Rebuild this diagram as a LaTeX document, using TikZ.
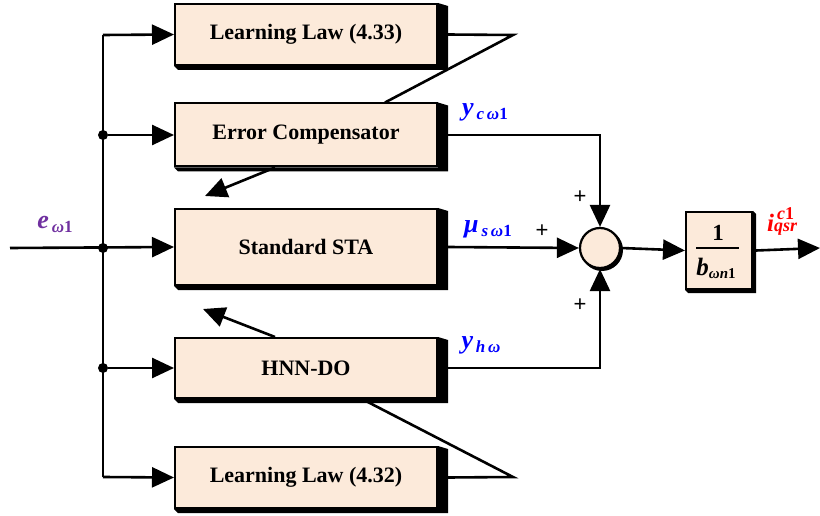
\documentclass[tikz,border=0pt]{standalone}
\usepackage{fontspec}
\setmainfont{Liberation Serif}
\newfontfamily\plusfont{Liberation Sans}
\usetikzlibrary{arrows.meta}
\definecolor{boxfill}{RGB}{252,234,218}
\definecolor{lblblue}{RGB}{0,0,255}
\definecolor{lblpurple}{RGB}{112,48,160}
\definecolor{lblred}{RGB}{255,0,0}
\newcommand\dropshade[1]{\fill (#1.north east) -- ++(10,3) -- ([shift={(10,4)}]#1.south east) -- ([shift={(4,4)}]#1.south west) -- (#1.south west) -- (#1.south east) -- cycle;}
\newcommand\fsz[1]{\fontsize{#1}{#1}\selectfont}
\begin{document}
\begin{tikzpicture}[x=1pt,y=-1pt,
  blk/.style={draw=black, line width=2pt, fill=boxfill, minimum width=262pt, inner sep=0pt,
              font=\fsz{22}\bfseries},
  conn/.style={line width=2.6pt},
  arr/.style={conn, -{Triangle[length=22pt,width=20pt]}},
  dotn/.style={circle, fill=black, inner sep=0pt, minimum size=10pt},
  lbl/.style={inner sep=0pt, font=\bfseries\itshape},
  plus/.style={inner sep=0pt, font=\plusfont\fsz{22}}
]
\useasboundingbox (0,0) rectangle (820,516);

% blocks
\node[blk, minimum height=61pt] (LL1) at (306,34.5) {Learning Law (4.33)};
\node[blk, minimum height=63pt] (EC)  at (306,135) {Error Compensator};
\node[blk, minimum height=76pt] (STA) at (306,247) {Standard STA};
\node[blk, minimum height=60pt] (HNN) at (306,368) {HNN-DO};
\node[blk, minimum height=61pt] (LL2) at (306,477.5) {Learning Law (4.32)};
\foreach \b in {LL1,EC,STA,HNN,LL2} {\dropshade{\b}}

% summing junction
\fill (602,250) circle (21);
\node[circle, draw=black, line width=2.2pt, fill=boxfill, minimum size=40pt, inner sep=0pt] (sum) at (600,248) {};

% gain block
\node[draw=black, line width=2pt, fill=boxfill, minimum width=66pt, minimum height=77pt, inner sep=0pt] (gain) at (719,250.5) {};
\fill (gain.north east) -- ++(3,3) -- ([shift={(3,3)}]gain.south east) -- ([shift={(3,3)}]gain.south west) -- (gain.south west) -- (gain.south east) -- cycle;
\node[inner sep=0pt, font=\fsz{23}\bfseries] (num) at (718,233) {1};
\coordinate (rl) at (696,248);
\coordinate (rr) at (739,248);
\draw[line width=2pt] (rl) -- (rr);
\node[inner sep=0pt] (den) at (716,268) {{\fsz{25}\bfseries\itshape b}\raisebox{-3pt}{\fsz{15}\bfseries\itshape ωn\upshape 1}};

% input and bus
\coordinate (in) at (10,248);
\coordinate (bt) at (103,35);
\coordinate (bb) at (103,477);
\node[dotn] (j1) at (103,135) {};
\node[dotn] (j2) at (103,248) {};
\node[dotn] (j3) at (103,368) {};
\draw[conn] (bt) -- (bb);
\draw[arr] (in) -- (STA.west);
\draw[arr] (bt) -- (LL1.west);
\draw[arr] (j1) -- (EC.west);
\draw[arr] (j3) -- (HNN.west);
\draw[arr] (bb) -- (LL2.west);

% learning law feedback lines
\coordinate (t1) at (513,35);
\coordinate (t2) at (513,477);
\draw[conn] ([xshift=10]LL1.east) -- (t1) -- ([xshift=79]EC.north);
\draw[conn] ([xshift=56]HNN.south) -- (t2) -- ([xshift=10]LL2.east);

% diagonal arrows to STA
\coordinate (a1) at (205,196);
\coordinate (a2) at (203,309);
\draw[arr] ([xshift=-31]EC.south) -- (a1);
\draw[arr] ([xshift=-31]HNN.north) -- (a2);

% outputs to sum
\draw[arr] ([xshift=10]EC.east) -| (sum.north);
\draw[arr] ([xshift=10]STA.east) -- (sum.west);
\draw[arr] ([xshift=10]HNN.east) -| (sum.south);
\draw[arr] (sum.east) -- (gain.west);
\coordinate (out) at (820,248);
\draw[arr] ([xshift=3]gain.east) -- (out);

% labels
\node[lbl, text=lblpurple] (le) at (55,224) {{\fsz{26}e}\raisebox{-4pt}{\fsz{17}\,ω\upshape 1}};
\node[lbl, text=lblblue] (lyc) at (485,112) {{\fsz{26}y}\raisebox{-4pt}{\fsz{17}\,c\,ω\upshape 1}};
\node[lbl, text=lblblue] (lmu) at (488,229) {{\fsz{26}μ}\raisebox{-4pt}{\fsz{17}\,s\,ω\upshape 1}};
\node[lbl, text=lblblue] (lyh) at (481,345) {{\fsz{26}y}\raisebox{-4pt}{\fsz{17}\,h\,ω}};
\node[lbl, text=lblred, anchor=base west] (li) at (767,232) {{\fsz{25}i}\makebox[0pt][l]{\raisebox{13pt}{\fsz{18}\,c\upshape 1}}{\fsz{18}qsr}};
\node[plus] (p1) at (580,197) {+};
\node[plus] (p2) at (542,231) {+};
\node[plus] (p3) at (580,305) {+};
\end{tikzpicture}
\end{document}
